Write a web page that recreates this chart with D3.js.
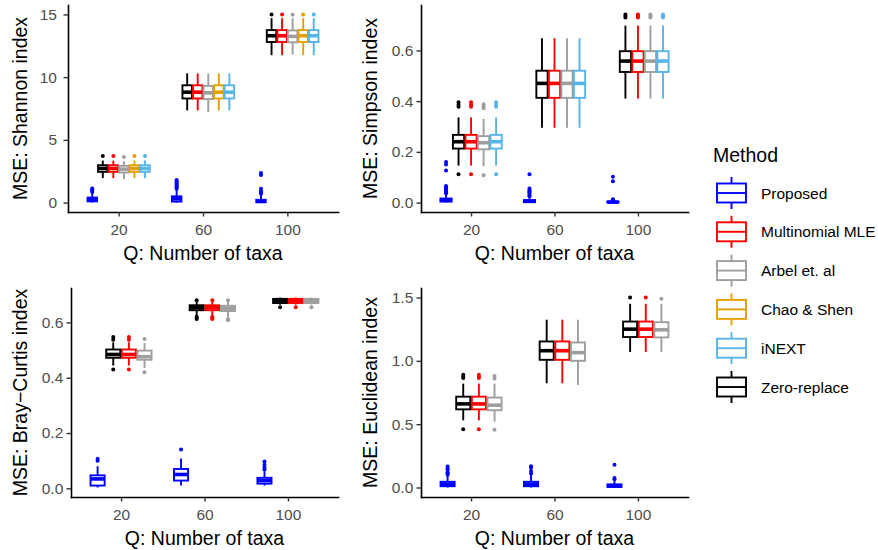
<!DOCTYPE html>
<html>
<head>
<meta charset="utf-8">
<script src="https://cdn.jsdelivr.net/npm/d3@7"></script>
<style>
  body { margin: 0; background: #fff; }
  svg { font-family: "Liberation Sans", Arial, Helvetica, sans-serif; }
</style>
</head>
<body>
<svg id="chart" width="878" height="550"></svg>
<script>
const taxa = ['20', '60', '100'];
const legendMethods = ['Proposed', 'Multinomial MLE', 'Arbel et. al', 'Chao & Shen', 'iNEXT', 'Zero-replace'];
const methodColors = ['#0000FF', '#FF0000', '#9E9E9E', '#E69F00', '#56B4E9', '#000000'];

// dodge order inside each Q group
const shannonMethods = ['Proposed', 'Zero-replace', 'Multinomial MLE', 'Arbel et. al', 'Chao & Shen', 'iNEXT'];
const simpsonMethods = ['Proposed', 'Zero-replace', 'Multinomial MLE', 'Arbel et. al', 'iNEXT'];
const distMethods = ['Proposed', 'Zero-replace', 'Multinomial MLE', 'Arbel et. al'];

const shannonTicks = [0, 5, 10, 15];
const simpsonTicks = [0, 0.2, 0.4, 0.6];
const brayTicks = [0, 0.2, 0.4, 0.6];
const euclidTicks = [0, 0.5, 1.0, 1.5];

// s = [lower whisker, q1, median, q3, upper whisker], out = outliers
const shannonBoxes = [
  {q: '20', m: 'Proposed', s: [0, 0.1, 0.25, 0.4, 0.75], out: [0.85, 0.95, 1.05, 1.12]},
  {q: '20', m: 'Zero-replace', s: [1.95, 2.45, 2.72, 2.98, 3.35], out: [3.72]},
  {q: '20', m: 'Multinomial MLE', s: [1.95, 2.45, 2.72, 2.98, 3.35], out: [3.72]},
  {q: '20', m: 'Arbel et. al', s: [1.88, 2.4, 2.67, 2.93, 3.3], out: [3.63]},
  {q: '20', m: 'Chao & Shen', s: [1.95, 2.45, 2.72, 2.98, 3.35], out: [3.72]},
  {q: '20', m: 'iNEXT', s: [1.95, 2.45, 2.72, 2.98, 3.35], out: [3.72]},
  {q: '60', m: 'Proposed', s: [0, 0.08, 0.3, 0.5, 1.0], out: [1.1, 1.2, 1.3, 1.4, 1.5, 1.6, 1.7, 1.8]},
  {q: '60', m: 'Zero-replace', s: [7.35, 8.3, 8.8, 9.35, 10.3], out: []},
  {q: '60', m: 'Multinomial MLE', s: [7.35, 8.3, 8.8, 9.35, 10.3], out: []},
  {q: '60', m: 'Arbel et. al', s: [7.22, 8.25, 8.75, 9.3, 10.3], out: []},
  {q: '60', m: 'Chao & Shen', s: [7.35, 8.3, 8.8, 9.35, 10.3], out: []},
  {q: '60', m: 'iNEXT', s: [7.35, 8.3, 8.8, 9.35, 10.3], out: []},
  {q: '100', m: 'Proposed', s: [0, 0.03, 0.1, 0.22, 0.6], out: [0.7, 0.8, 0.9, 1.1, 2.2, 2.35]},
  {q: '100', m: 'Zero-replace', s: [11.75, 12.8, 13.3, 13.75, 14.7], out: [15.0]},
  {q: '100', m: 'Multinomial MLE', s: [11.75, 12.8, 13.3, 13.75, 14.7], out: [15.0]},
  {q: '100', m: 'Arbel et. al', s: [11.8, 12.78, 13.25, 13.72, 14.7], out: [14.97]},
  {q: '100', m: 'Chao & Shen', s: [11.75, 12.8, 13.3, 13.75, 14.7], out: [15.0]},
  {q: '100', m: 'iNEXT', s: [11.75, 12.8, 13.3, 13.75, 14.7], out: [15.0]}
];

const simpsonBoxes = [
  {q: '20', m: 'Proposed', s: [0, 0.004, 0.009, 0.016, 0.032], out: [0.036, 0.04, 0.045, 0.05, 0.055, 0.06, 0.065, 0.127, 0.15, 0.16]},
  {q: '20', m: 'Zero-replace', s: [0.146, 0.213, 0.24, 0.267, 0.336], out: [0.112, 0.378, 0.386, 0.396]},
  {q: '20', m: 'Multinomial MLE', s: [0.146, 0.213, 0.24, 0.267, 0.336], out: [0.112, 0.378, 0.386, 0.396]},
  {q: '20', m: 'Arbel et. al', s: [0.143, 0.21, 0.236, 0.262, 0.33], out: [0.108, 0.372, 0.38, 0.388]},
  {q: '20', m: 'iNEXT', s: [0.146, 0.213, 0.24, 0.267, 0.336], out: [0.112, 0.378, 0.386, 0.396]},
  {q: '60', m: 'Proposed', s: [0, 0.002, 0.005, 0.01, 0.02], out: [0.025, 0.03, 0.035, 0.04, 0.045, 0.05, 0.056, 0.112]},
  {q: '60', m: 'Zero-replace', s: [0.295, 0.413, 0.47, 0.52, 0.648], out: []},
  {q: '60', m: 'Multinomial MLE', s: [0.295, 0.413, 0.47, 0.52, 0.648], out: []},
  {q: '60', m: 'Arbel et. al', s: [0.295, 0.413, 0.47, 0.52, 0.648], out: []},
  {q: '60', m: 'iNEXT', s: [0.295, 0.413, 0.47, 0.52, 0.648], out: []},
  {q: '100', m: 'Proposed', s: [0, 0.0005, 0.002, 0.004, 0.008], out: [0.01, 0.013, 0.084, 0.102]},
  {q: '100', m: 'Zero-replace', s: [0.41, 0.515, 0.558, 0.597, 0.698], out: [0.73, 0.736, 0.742]},
  {q: '100', m: 'Multinomial MLE', s: [0.41, 0.515, 0.558, 0.597, 0.698], out: [0.73, 0.736, 0.742]},
  {q: '100', m: 'Arbel et. al', s: [0.41, 0.515, 0.558, 0.597, 0.698], out: [0.73, 0.736, 0.742]},
  {q: '100', m: 'iNEXT', s: [0.41, 0.515, 0.558, 0.597, 0.698], out: [0.73, 0.736, 0.742]}
];

const brayBoxes = [
  {q: '20', m: 'Proposed', s: [0.003, 0.01, 0.034, 0.047, 0.08], out: [0.1, 0.107]},
  {q: '20', m: 'Zero-replace', s: [0.444, 0.472, 0.484, 0.502, 0.528], out: [0.43, 0.537, 0.547]},
  {q: '20', m: 'Multinomial MLE', s: [0.444, 0.472, 0.484, 0.502, 0.528], out: [0.43, 0.537, 0.547]},
  {q: '20', m: 'Arbel et. al', s: [0.435, 0.465, 0.476, 0.498, 0.525], out: [0.42, 0.54]},
  {q: '60', m: 'Proposed', s: [0.01, 0.028, 0.05, 0.07, 0.108], out: [0.14]},
  {q: '60', m: 'Zero-replace', s: [0.625, 0.644, 0.653, 0.662, 0.674], out: [0.612, 0.616, 0.62, 0.68]},
  {q: '60', m: 'Multinomial MLE', s: [0.625, 0.644, 0.653, 0.662, 0.674], out: [0.612, 0.616, 0.62, 0.68]},
  {q: '60', m: 'Arbel et. al', s: [0.62, 0.641, 0.651, 0.66, 0.674], out: [0.608, 0.612, 0.68]},
  {q: '100', m: 'Proposed', s: [0.01, 0.017, 0.028, 0.038, 0.062], out: [0.068, 0.075, 0.085, 0.097]},
  {q: '100', m: 'Zero-replace', s: [0.664, 0.67, 0.678, 0.685, 0.69], out: [0.655]},
  {q: '100', m: 'Multinomial MLE', s: [0.664, 0.67, 0.678, 0.685, 0.69], out: [0.655]},
  {q: '100', m: 'Arbel et. al', s: [0.664, 0.67, 0.678, 0.685, 0.69], out: [0.655]}
];

const euclidBoxes = [
  {q: '20', m: 'Proposed', s: [0, 0.01, 0.025, 0.045, 0.09], out: [0.1, 0.11, 0.12, 0.14, 0.15, 0.165]},
  {q: '20', m: 'Zero-replace', s: [0.53, 0.617, 0.66, 0.717, 0.82], out: [0.46, 0.865, 0.875, 0.89]},
  {q: '20', m: 'Multinomial MLE', s: [0.53, 0.617, 0.66, 0.717, 0.82], out: [0.46, 0.865, 0.875, 0.89]},
  {q: '20', m: 'Arbel et. al', s: [0.52, 0.61, 0.65, 0.71, 0.82], out: [0.455, 0.86, 0.88]},
  {q: '60', m: 'Proposed', s: [0, 0.01, 0.025, 0.045, 0.1], out: [0.11, 0.13, 0.155, 0.168]},
  {q: '60', m: 'Zero-replace', s: [0.823, 1.008, 1.08, 1.153, 1.325], out: []},
  {q: '60', m: 'Multinomial MLE', s: [0.823, 1.008, 1.08, 1.153, 1.325], out: []},
  {q: '60', m: 'Arbel et. al', s: [0.81, 1.0, 1.065, 1.145, 1.325], out: []},
  {q: '100', m: 'Proposed', s: [0, 0.004, 0.012, 0.025, 0.06], out: [0.065, 0.075, 0.18]},
  {q: '100', m: 'Zero-replace', s: [1.07, 1.188, 1.25, 1.31, 1.45], out: [1.5]},
  {q: '100', m: 'Multinomial MLE', s: [1.07, 1.188, 1.25, 1.31, 1.45], out: [1.5]},
  {q: '100', m: 'Arbel et. al', s: [1.07, 1.185, 1.245, 1.305, 1.45], out: [1.49]}
];

const svg = d3.select('#chart');
const color = d3.scaleOrdinal(legendMethods, methodColors);
const tickColor = '#333333';
const labelColor = '#4D4D4D';

function drawPanel(cfg) {
  const g = svg.append('g');
  const x = d3.scalePoint().domain(taxa).range([cfg.x0, cfg.x1]).padding(0.6);
  const vals = cfg.data.flatMap(d => d.s.concat(d.out));
  const [lo, hi] = d3.extent(vals);
  const pad = (hi - lo) * 0.05;
  const y = d3.scaleLinear().domain([lo - pad, hi + pad]).range([cfg.y1, cfg.y0]);

  const groupW = x.step() * 0.75;
  const slot = groupW / cfg.methods.length;
  const boxW = slot * 0.9;
  const cx = d => x(d.q) - groupW / 2 + slot * (cfg.methods.indexOf(d.m) + 0.5);

  // axes
  const ya = g.append('g')
    .attr('transform', `translate(${cfg.x0},0)`)
    .call(d3.axisLeft(y).tickValues(cfg.ticks).tickFormat(cfg.fmt).tickSize(4.5).tickSizeOuter(0));
  ya.selectAll('text')
    .attr('x', -cfg.gap)
    .attr('font-size', 15.5)
    .attr('fill', labelColor);

  const xa = g.append('g')
    .attr('transform', `translate(0,${cfg.y1})`)
    .call(d3.axisBottom(x).tickSize(4.5).tickSizeOuter(0));
  xa.selectAll('text')
    .attr('y', 23)
    .attr('dy', null)
    .attr('font-size', 15.5)
    .attr('fill', labelColor);

  [ya, xa].forEach(a => {
    a.attr('font-family', null);
    a.select('.domain').attr('stroke', '#000').attr('stroke-width', 1.6).attr('stroke-linecap', 'square');
    a.selectAll('.tick line').attr('stroke', tickColor).attr('stroke-width', 1.4);
  });

  // boxes
  const box = g.selectAll('g.box').data(cfg.data).join('g').attr('class', 'box');
  box.each(function(d) {
    const b = d3.select(this);
    const c = cx(d), col = color(d.m);
    b.selectAll('circle').data(d.out).join('circle')
      .attr('cx', c).attr('cy', v => y(v)).attr('r', 2)
      .attr('fill', col);
    b.append('line')
      .attr('x1', c).attr('x2', c).attr('y1', y(d.s[0])).attr('y2', y(d.s[1]))
      .attr('stroke', col).attr('stroke-width', 1.9);
    b.append('line')
      .attr('x1', c).attr('x2', c).attr('y1', y(d.s[3])).attr('y2', y(d.s[4]))
      .attr('stroke', col).attr('stroke-width', 1.9);
    b.append('rect')
      .attr('x', c - boxW / 2).attr('width', boxW)
      .attr('y', y(d.s[3])).attr('height', y(d.s[1]) - y(d.s[3]))
      .attr('fill', '#fff').attr('stroke', col).attr('stroke-width', 1.9);
    b.append('line')
      .attr('x1', c - boxW / 2).attr('x2', c + boxW / 2)
      .attr('y1', y(d.s[2])).attr('y2', y(d.s[2]))
      .attr('stroke', col).attr('stroke-width', 3.6);
  });

  // titles
  g.append('text')
    .attr('x', (cfg.x0 + cfg.x1) / 2).attr('y', cfg.y1 + 47.5)
    .attr('text-anchor', 'middle').attr('font-size', 19.5).attr('fill', '#000')
    .text('Q: Number of taxa');
  g.append('text')
    .attr('transform', `translate(${cfg.tx},${(cfg.y0 + cfg.y1) / 2}) rotate(-90)`)
    .attr('text-anchor', 'middle').attr('font-size', 19.5).attr('fill', '#000')
    .text(cfg.title);
}

const fmt1 = d3.format('.1f');

drawPanel({title: 'MSE: Shannon index', data: shannonBoxes, methods: shannonMethods,
  ticks: shannonTicks, fmt: d3.format('d'), x0: 68, x1: 338, y0: 5, y1: 212, gap: 11, tx: 26.5});
drawPanel({title: 'MSE: Simpson index', data: simpsonBoxes, methods: simpsonMethods,
  ticks: simpsonTicks, fmt: fmt1, x0: 421, x1: 688, y0: 5, y1: 212, gap: 7.7, tx: 376.5});
drawPanel({title: 'MSE: Bray\u2212Curtis index', data: brayBoxes, methods: distMethods,
  ticks: brayTicks, fmt: fmt1, x0: 71, x1: 338, y0: 288, y1: 497, gap: 7.7, tx: 26.5});
drawPanel({title: 'MSE: Euclidean index', data: euclidBoxes, methods: distMethods,
  ticks: euclidTicks, fmt: fmt1, x0: 421, x1: 688, y0: 288, y1: 497, gap: 7.7, tx: 376.5});

// legend
const legend = svg.append('g').attr('transform', 'translate(713,0)');
legend.append('text')
  .attr('x', 0).attr('y', 161.5)
  .attr('font-size', 19.5).attr('fill', '#000')
  .text('Method');
const item = legend.selectAll('g.item').data(legendMethods).join('g')
  .attr('class', 'item')
  .attr('transform', (d, i) => `translate(18.5,${193 + i * 38.8})`);
item.append('line')
  .attr('x1', 0).attr('x2', 0).attr('y1', -16).attr('y2', 16)
  .attr('stroke', d => color(d)).attr('stroke-width', 1.9);
item.append('rect')
  .attr('x', -14.5).attr('y', -9.5).attr('width', 29).attr('height', 19)
  .attr('fill', '#fff').attr('stroke', d => color(d)).attr('stroke-width', 1.9);
item.append('line')
  .attr('x1', -14.5).attr('x2', 14.5).attr('y1', 0).attr('y2', 0)
  .attr('stroke', d => color(d)).attr('stroke-width', 1.9);
item.append('text')
  .attr('x', 29.5).attr('y', 5.5)
  .attr('font-size', 15.5).attr('fill', '#000')
  .text(d => d);
</script>
</body>
</html>
